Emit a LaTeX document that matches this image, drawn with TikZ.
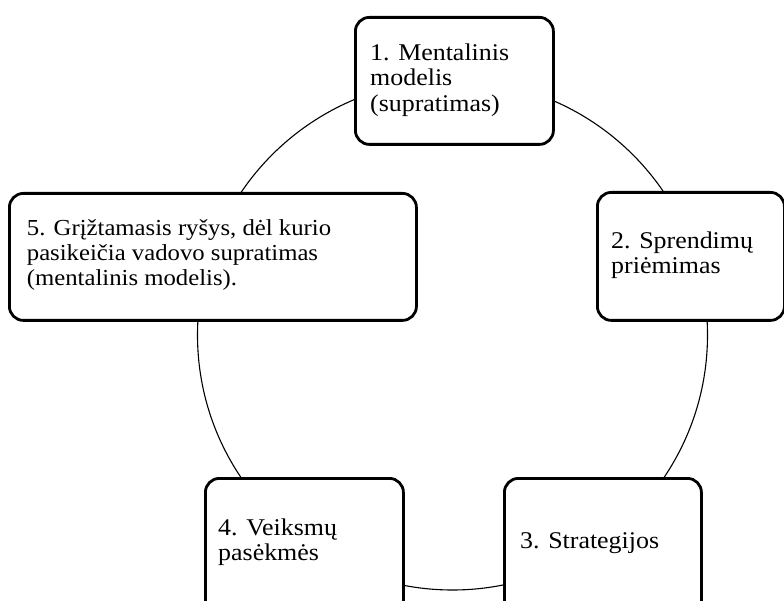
\documentclass[tikz,border=0pt]{standalone}
\usepackage{fontspec}
\setmainfont{Liberation Serif}[FakeStretch=1.08]
\begin{document}
\begin{tikzpicture}[x=1pt,y=-1pt,
  stage/.style={draw=black, line width=2.8pt, rounded corners=14pt, fill=white,
                anchor=north west, inner sep=0pt},
  % anchored at the baseline of the last line of each text
  label/.style={inner sep=0pt, anchor=base west, align=left,
                font=\fontsize{24}{25.3}\selectfont},
  smalllabel/.style={label, font=\fontsize{22.9}{25}\selectfont},
  ring/.style={circle, draw=black, line width=1.1pt, inner sep=0pt}]
\useasboundingbox (0,0) rectangle (784,601);
\clip (0,0) rectangle (784,601);
\fill[white] (0,0) rectangle (784,601);

% the cycle behind the five stages
\node[ring, minimum size=510pt] (cycle) at (452.5,335) {};

% stage frames
\node[stage, minimum width=198pt, minimum height=127pt] (s1) at (354,16) {};
\node[stage, minimum width=187pt, minimum height=128pt] (s2) at (596,191) {};
\node[stage, minimum width=197pt, minimum height=150pt] (s3) at (503,477) {};
\node[stage, minimum width=198pt, minimum height=150pt] (s4) at (204,477) {};
\node[stage, minimum width=407pt, minimum height=127pt] (s5) at (8,192) {};

% stage texts
\node[label] (t1) at (370,111.3) {1. Mentalinis\\modelis\\(supratimas)};
\node[label] (t2) at (611,273.5) {2. Sprendimų\\priėmimas};
\node[label] (t3) at (520,548) {3. Strategijos};
\node[label] (t4) at (218,560.3) {4. Veiksmų\\pasėkmės};
\node[smalllabel] (t5) at (26.7,285.6) {5. Grįžtamasis ryšys, dėl kurio\\pasikeičia vadovo supratimas\\(mentalinis modelis).};
\end{tikzpicture}
\end{document}
